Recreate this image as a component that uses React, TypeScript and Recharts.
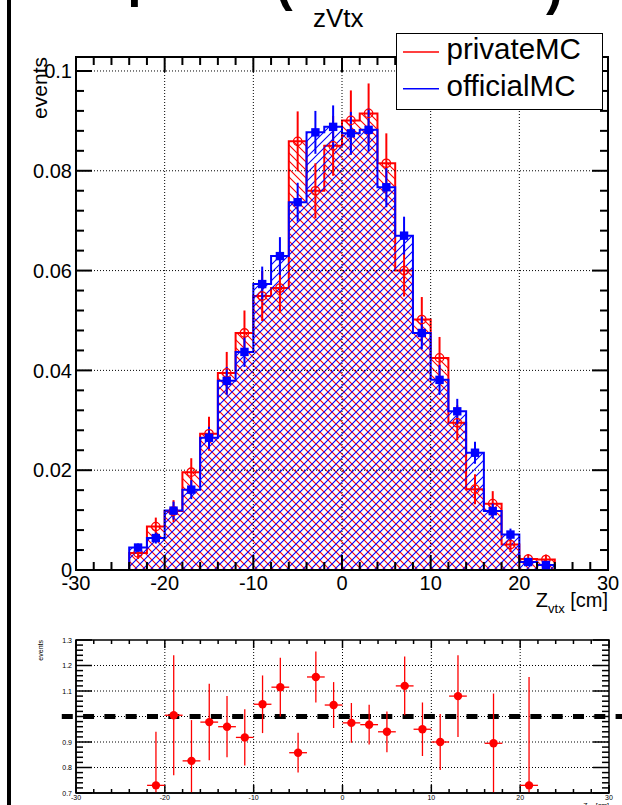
import React from 'react';
import {
  ComposedChart,
  Area,
  Scatter,
  ErrorBar,
  XAxis,
  YAxis,
  ReferenceLine,
  ReferenceArea,
  Label,
} from 'recharts';

const FONT = '"Liberation Sans", Arial, Helvetica, sans-serif';
const RED = '#ff0000';
const BLUE = '#0000ff';

// zVtx histograms, 2 cm bins
const binCenters = [
  -23, -21, -19, -17, -15, -13, -11, -9, -7, -5, -3, -1,
  1, 3, 5, 7, 9, 11, 13, 15, 17, 19, 21, 23,
];
const privateMC = [
  0.0034, 0.0087, 0.0118, 0.0196, 0.0273, 0.0395, 0.0475, 0.0549, 0.0565, 0.0859, 0.076, 0.085,
  0.0901, 0.0915, 0.0815, 0.06, 0.0502, 0.0425, 0.0295, 0.0162, 0.0133, 0.0051, 0.0022, 0.0021,
];
const privateErr = [
  0.0012, 0.0018, 0.0022, 0.0028, 0.0034, 0.0042, 0.0045, 0.005, 0.005, 0.006, 0.0055, 0.006,
  0.006, 0.006, 0.006, 0.0052, 0.0045, 0.0042, 0.0035, 0.003, 0.0025, 0.0015, 0.001, 0.001,
];
const officialMC = [
  0.0045, 0.0064, 0.0119, 0.0161, 0.0265, 0.0379, 0.0437, 0.0573, 0.0629, 0.0737, 0.0877, 0.0888,
  0.0875, 0.0882, 0.0767, 0.067, 0.0475, 0.0381, 0.0318, 0.0235, 0.0118, 0.0071, 0.0016, 0.001,
];
const officialErr = [
  0.0008, 0.0011, 0.0018, 0.0019, 0.0022, 0.0028, 0.003, 0.0035, 0.0038, 0.0039, 0.0043, 0.0043,
  0.0043, 0.0043, 0.004, 0.0038, 0.0033, 0.003, 0.0025, 0.0022, 0.0015, 0.0012, 0.0006, 0.0005,
];

// official / private ratio (points inside the 0.7-1.3 window)
const ratioCenters = [-21, -19, -17, -15, -13, -11, -9, -7, -5, -3, -1, 1, 3, 5, 7, 9, 11, 13, 17, 21];
const ratioValues = [
  0.73, 1.005, 0.826, 0.978, 0.96, 0.918, 1.048, 1.115, 0.858, 1.155,
  1.045, 0.975, 0.968, 0.94, 1.12, 0.95, 0.9, 1.08, 0.895, 0.73,
];
const ratioErr = [
  0.21, 0.235, 0.16, 0.15, 0.12, 0.11, 0.113, 0.115, 0.078, 0.1,
  0.09, 0.078, 0.078, 0.08, 0.115, 0.105, 0.11, 0.16, 0.195, 0.425,
];

const xMajor = [-30, -20, -10, 0, 10, 20, 30];
const xTicks = Array.from({ length: 31 }, (_, i) => -30 + 2 * i);
const yMajor = [0, 0.02, 0.04, 0.06, 0.08, 0.1];
const yTicks = Array.from({ length: 26 }, (_, i) => +(i * 0.004).toFixed(3));
const ratioMajor = [0.7, 0.8, 0.9, 1, 1.1, 1.2, 1.3];
const ratioTicks = Array.from({ length: 31 }, (_, i) => +(0.7 + i * 0.02).toFixed(2));

const legendItems = [
  { name: 'privateMC', color: RED },
  { name: 'officialMC', color: BLUE },
];

const BIN_WIDTH = 2;
const X_RANGE = [-30, 30];
const Y_RANGE = [0, 0.1028];
const RATIO_RANGE = [0.7, 1.3];

function stepRows(values: number[]) {
  const rows = [{ x: X_RANGE[0], v: 0 }];
  binCenters.forEach((c, i) => rows.push({ x: c - BIN_WIDTH / 2, v: values[i] }));
  rows.push({ x: binCenters[binCenters.length - 1] + BIN_WIDTH / 2, v: 0 });
  rows.push({ x: X_RANGE[1], v: 0 });
  return rows;
}

const pointRows = (values: number[], errs: number[]) =>
  binCenters.map((x, i) => ({ x, v: values[i], err: errs[i] }));

const privateSteps = stepRows(privateMC);
const officialSteps = stepRows(officialMC);
const privatePoints = pointRows(privateMC, privateErr);
const officialPoints = pointRows(officialMC, officialErr);
// the lower bar stops at the bottom of the frame
const ratioPoints = ratioCenters.map((x, i) => ({
  x,
  r: ratioValues[i],
  err: [Math.min(ratioErr[i], ratioValues[i] - RATIO_RANGE[0]), ratioErr[i]],
  xerr: BIN_WIDTH / 2,
}));

const isMajor = (v: number, majors: number[]) => majors.some((m) => Math.abs(m - v) < 1e-9);

const gridStyle = { stroke: '#000', strokeWidth: 1, strokeDasharray: '1 2' };

// labels only; tick marks are drawn by the reference lines below
const labelTick = (side: 'bottom' | 'left', majors: number[], font: number, gap: number) => (props: any) => {
  const { x, y, payload } = props;
  const v = payload.value;
  if (!isMajor(v, majors)) return <g />;
  if (side === 'bottom') {
    return (
      <text x={x} y={y + gap} textAnchor="middle" fontSize={font} fontFamily={FONT} fill="#000">
        {String(v)}
      </text>
    );
  }
  return (
    <text x={x - gap} y={y} dy="0.36em" textAnchor="end" fontSize={font} fontFamily={FONT} fill="#000">
      {String(v)}
    </text>
  );
};

// vertical tick: inward marks on the bottom and top edges, optional dotted grid line
const xTickShape = (len: number, grid: boolean, w: number) => (p: any) => {
  const top = Math.min(p.y1, p.y2);
  const bottom = Math.max(p.y1, p.y2);
  return (
    <g>
      {grid && <line x1={p.x1} x2={p.x1} y1={top} y2={bottom} {...gridStyle} />}
      <line x1={p.x1} x2={p.x1} y1={bottom} y2={bottom - len} stroke="#000" strokeWidth={w} />
      <line x1={p.x1} x2={p.x1} y1={top} y2={top + len} stroke="#000" strokeWidth={w} />
    </g>
  );
};

// horizontal tick: inward marks on the left and right edges, optional dotted grid line
const yTickShape = (len: number, grid: boolean, w: number) => (p: any) => {
  const left = Math.min(p.x1, p.x2);
  const right = Math.max(p.x1, p.x2);
  return (
    <g>
      {grid && <line x1={left} x2={right} y1={p.y1} y2={p.y1} {...gridStyle} />}
      <line x1={left} x2={left + len} y1={p.y1} y2={p.y1} stroke="#000" strokeWidth={w} />
      <line x1={right} x2={right - len} y1={p.y1} y2={p.y1} stroke="#000" strokeWidth={w} />
    </g>
  );
};

type FrameSpec = {
  id: string;
  ticksX: number[];
  majorX: number[];
  ticksY: number[];
  majorY: number[];
  domainY: number[];
  lenX: [number, number];
  lenY: [number, number];
  width: number;
};

function frameTicks(f: FrameSpec) {
  const inside = (v: number, d: number[]) => v > d[0] + 1e-9 && v < d[1] - 1e-9;
  return [
    ...f.ticksX.map((v) => {
      const major = isMajor(v, f.majorX);
      return (
        <ReferenceLine
          key={`${f.id}x${v}`}
          x={v}
          stroke="none"
          shape={xTickShape(major ? f.lenX[0] : f.lenX[1], major && inside(v, X_RANGE), f.width)}
        />
      );
    }),
    ...f.ticksY.map((v) => {
      const major = isMajor(v, f.majorY);
      return (
        <ReferenceLine
          key={`${f.id}y${v}`}
          y={v}
          stroke="none"
          shape={yTickShape(major ? f.lenY[0] : f.lenY[1], major && inside(v, f.domainY), f.width)}
        />
      );
    }),
  ];
}

const openCircle = (props: any) => (
  <circle cx={props.cx} cy={props.cy} r={4.2} fill="none" stroke={RED} strokeWidth={1.3} />
);
const filledSquare = (props: any) => (
  <rect x={props.cx - 4.2} y={props.cy - 4.2} width={8.4} height={8.4} fill={BLUE} />
);
const filledCircle = (props: any) => <circle cx={props.cx} cy={props.cy} r={4.2} fill={RED} />;

const zTitle = (size: number, sub: number, shift: number, below: number) => (props: any) => {
  const { x, y, width } = props.viewBox;
  return (
    <text x={x + width} y={y + below} textAnchor="end" fontSize={size} fontFamily={FONT} fill="#000">
      Z
      <tspan fontSize={sub} dy={shift}>
        vtx
      </tspan>
      <tspan dy={-shift}> [cm]</tspan>
    </text>
  );
};

const eventsTitle = (size: number, baselineX: number) => (props: any) => {
  const { y } = props.viewBox;
  return (
    <text
      x={baselineX}
      y={y}
      transform={`rotate(-90 ${baselineX} ${y})`}
      textAnchor="end"
      fontSize={size}
      fontFamily={FONT}
      fill="#000"
    >
      events
    </text>
  );
};

function MainPlot() {
  const frame = { stroke: '#000', strokeWidth: 2 };
  return (
    <ComposedChart width={622} height={622} margin={{ top: 57, right: 14, bottom: 0, left: 0 }}>
      <defs>
        <pattern id="hatchPrivate" patternUnits="userSpaceOnUse" width={8} height={8}>
          <path d="M-1,-1 L9,9 M-1,7 L1,9 M7,-1 L9,1" stroke={RED} strokeWidth={1.1} />
        </pattern>
        <pattern id="hatchOfficial" patternUnits="userSpaceOnUse" width={8} height={8}>
          <path d="M-1,9 L9,-1 M-1,1 L1,-1 M7,9 L9,7" stroke={BLUE} strokeWidth={1.1} />
        </pattern>
      </defs>
      <XAxis
        dataKey="x"
        type="number"
        domain={X_RANGE}
        ticks={xTicks}
        interval={0}
        allowDataOverflow
        height={52}
        tickSize={0}
        tickMargin={0}
        tickLine={false}
        axisLine={frame}
        tick={labelTick('bottom', xMajor, 20, 20)}
      >
        <Label content={zTitle(20, 13, 6, 37)} />
      </XAxis>
      <YAxis
        type="number"
        domain={Y_RANGE}
        ticks={yTicks}
        interval={0}
        allowDataOverflow
        width={76}
        tickSize={0}
        tickMargin={0}
        tickLine={false}
        axisLine={frame}
        tick={labelTick('left', yMajor, 20, 4)}
      >
        <Label content={eventsTitle(21, 47)} />
      </YAxis>
      <Area
        type="stepAfter"
        data={privateSteps}
        dataKey="v"
        stroke={RED}
        strokeWidth={2}
        fill="url(#hatchPrivate)"
        fillOpacity={1}
        dot={false}
        activeDot={false}
        isAnimationActive={false}
      />
      <Area
        type="stepAfter"
        data={officialSteps}
        dataKey="v"
        stroke={BLUE}
        strokeWidth={2}
        fill="url(#hatchOfficial)"
        fillOpacity={1}
        dot={false}
        activeDot={false}
        isAnimationActive={false}
      />
      {frameTicks({
        id: 'm',
        ticksX: xTicks,
        majorX: xMajor,
        ticksY: yTicks,
        majorY: yMajor,
        domainY: Y_RANGE,
        lenX: [15, 8],
        lenY: [16, 8],
        width: 2,
      })}
      <ReferenceArea
        x1={X_RANGE[0]}
        x2={X_RANGE[1]}
        y1={Y_RANGE[0]}
        y2={Y_RANGE[1]}
        ifOverflow="visible"
        fill="none"
        stroke="#000"
        strokeWidth={2}
      />
      <Scatter data={privatePoints} dataKey="v" shape={openCircle} isAnimationActive={false}>
        <ErrorBar dataKey="err" direction="y" width={0} stroke={RED} strokeWidth={2} isAnimationActive={false} />
      </Scatter>
      <Scatter data={officialPoints} dataKey="v" shape={filledSquare} isAnimationActive={false}>
        <ErrorBar dataKey="err" direction="y" width={0} stroke={BLUE} strokeWidth={2} isAnimationActive={false} />
      </Scatter>
    </ComposedChart>
  );
}

function RatioPlot() {
  const frame = { stroke: '#000', strokeWidth: 1.5 };
  return (
    <ComposedChart width={622} height={185} margin={{ top: 20, right: 13, bottom: 0, left: 0 }}>
      <XAxis
        dataKey="x"
        type="number"
        domain={X_RANGE}
        ticks={xTicks}
        interval={0}
        allowDataOverflow
        height={12}
        tickSize={0}
        tickMargin={0}
        tickLine={false}
        axisLine={frame}
        tick={labelTick('bottom', xMajor, 7, 7)}
      >
        <Label content={zTitle(7, 5, 2, 15)} />
      </XAxis>
      <YAxis
        type="number"
        domain={RATIO_RANGE}
        ticks={ratioTicks}
        interval={0}
        allowDataOverflow
        width={76}
        tickSize={0}
        tickMargin={0}
        tickLine={false}
        axisLine={frame}
        tick={labelTick('left', ratioMajor, 7, 4)}
      >
        <Label content={eventsTitle(7, 43)} />
      </YAxis>
      {frameTicks({
        id: 'r',
        ticksX: xTicks,
        majorX: xMajor,
        ticksY: ratioTicks,
        majorY: ratioMajor,
        domainY: RATIO_RANGE,
        lenX: [8, 4],
        lenY: [16, 7],
        width: 1.5,
      })}
      <ReferenceArea
        x1={X_RANGE[0]}
        x2={X_RANGE[1]}
        y1={RATIO_RANGE[0]}
        y2={RATIO_RANGE[1]}
        ifOverflow="visible"
        fill="none"
        stroke="#000"
        strokeWidth={1.5}
      />
      <ReferenceLine
        segment={[
          { x: -31.6, y: 1 },
          { x: 31.6, y: 1 },
        ]}
        ifOverflow="visible"
        stroke="#000"
        strokeWidth={5}
        strokeDasharray="11 10.3"
      />
      <Scatter data={ratioPoints} dataKey="r" shape={filledCircle} isAnimationActive={false}>
        <ErrorBar dataKey="err" direction="y" width={0} stroke={RED} strokeWidth={1.3} isAnimationActive={false} />
        <ErrorBar dataKey="xerr" direction="x" width={0} stroke={RED} strokeWidth={1.3} isAnimationActive={false} />
      </Scatter>
    </ComposedChart>
  );
}

function LegendBox() {
  return (
    <svg width={208} height={78} style={{ position: 'absolute', left: 395, top: 32 }}>
      <rect x={1.5} y={1.5} width={206} height={76} fill="#fff" stroke="#000" strokeWidth={1} />
      {legendItems.map((item, i) => (
        <g key={item.name}>
          <line x1={8} x2={44} y1={20 + i * 36.7} y2={20 + i * 36.7} stroke={item.color} strokeWidth={1.5} />
          <text x={51.5} y={27.3 + i * 36.7} fontSize={29.5} fontFamily={FONT} fill="#000">
            {item.name}
          </text>
        </g>
      ))}
    </svg>
  );
}

function TitleStrip() {
  return (
    <svg width={622} height={40} style={{ position: 'absolute', left: 0, top: 0 }}>
      <text fontSize={50} fontWeight="bold" fontFamily={FONT} fill="#000">
        <tspan x={127.5} y={-3}>p</tspan>
        <tspan x={276} y={1}>(</tspan>
        <tspan x={546} y={5}>)</tspan>
      </text>
      <text x={313} y={27} fontSize={26} fontFamily={FONT} fill="#000">
        zVtx
      </text>
    </svg>
  );
}

export default function App() {
  return (
    <div
      style={{
        position: 'absolute',
        left: 0,
        top: 0,
        width: 622,
        height: 805,
        background: '#fff',
        overflow: 'hidden',
      }}
    >
      <div style={{ position: 'absolute', left: 0, top: 0 }}>
        <MainPlot />
      </div>
      <div style={{ position: 'absolute', left: 0, top: 620 }}>
        <RatioPlot />
      </div>
      <TitleStrip />
      <LegendBox />
      <div style={{ position: 'absolute', left: 7, top: 0, width: 4, height: 805, background: '#000' }} />
    </div>
  );
}
